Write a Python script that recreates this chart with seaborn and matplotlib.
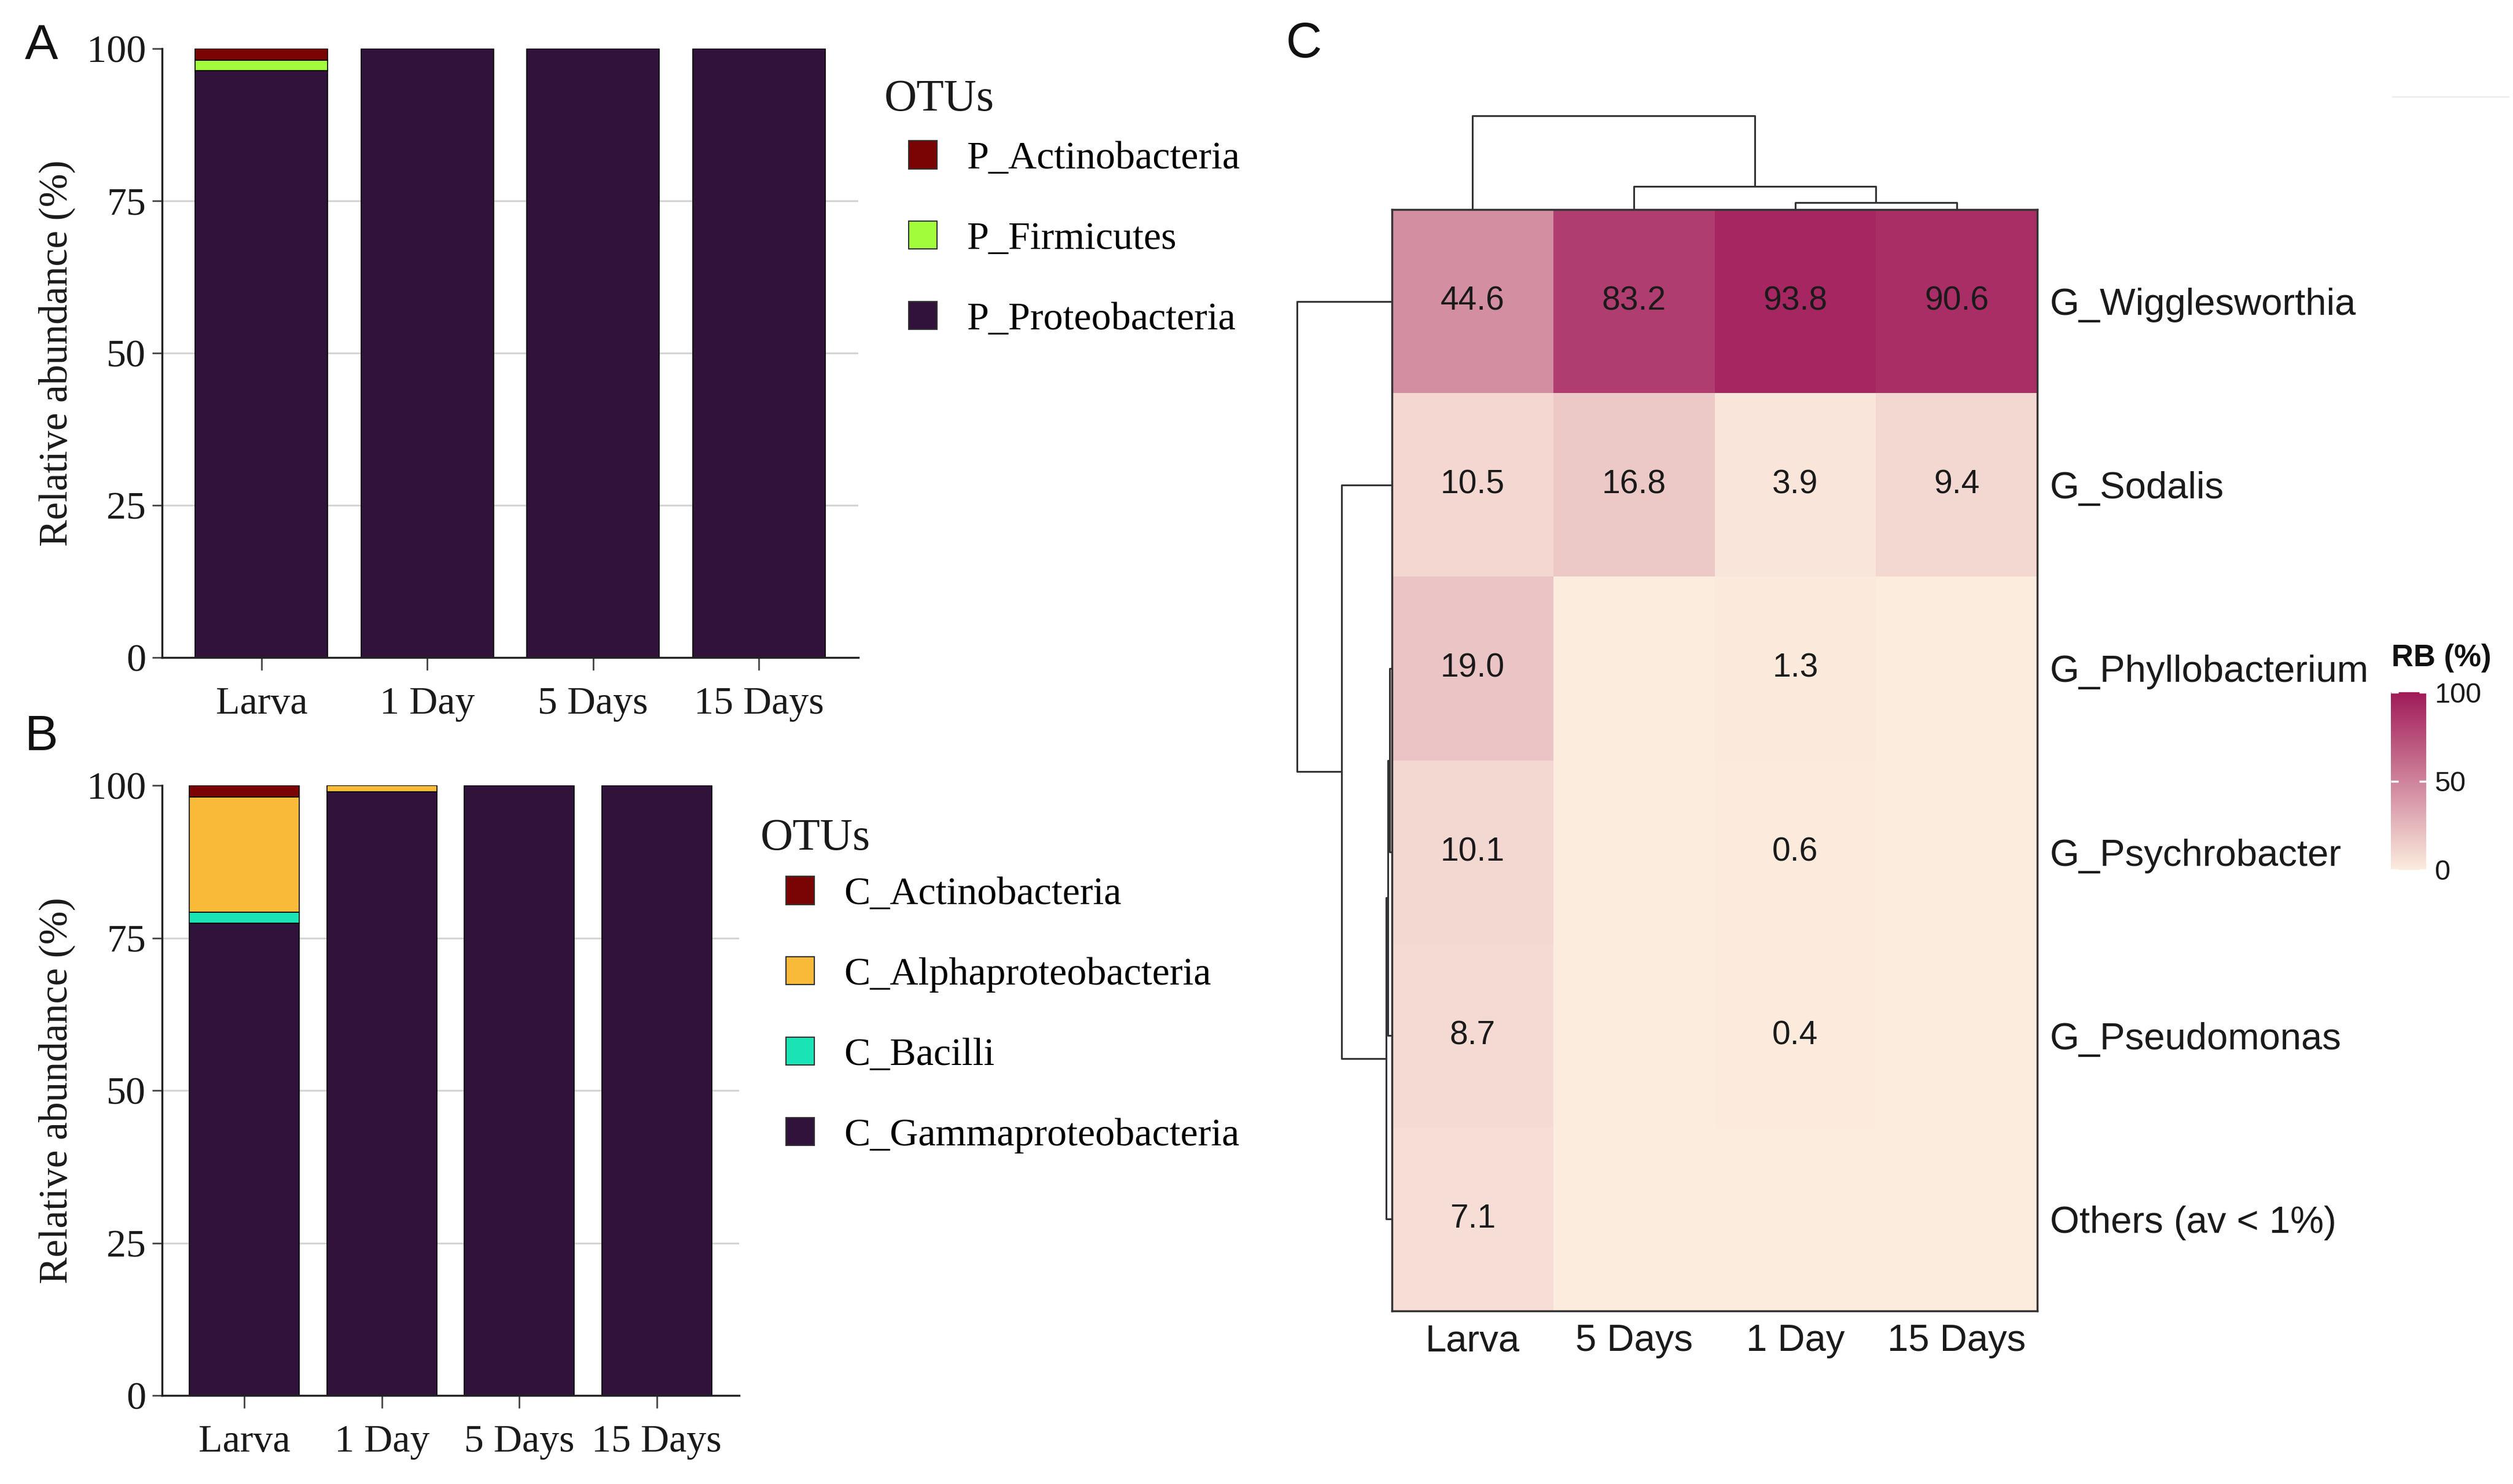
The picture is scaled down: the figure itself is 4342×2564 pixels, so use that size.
import numpy as np
import pandas as pd
import matplotlib
matplotlib.use("Agg")
import matplotlib.pyplot as plt
import seaborn as sns
from matplotlib.patches import Patch
from matplotlib.colors import LinearSegmentedColormap
from matplotlib.lines import Line2D

# ---------------- data ----------------
stages = ["Larva", "1 Day", "5 Days", "15 Days"]

phyla = ["P_Actinobacteria", "P_Firmicutes", "P_Proteobacteria"]
phyla_colors = ["#7A0403", "#A2FC3C", "#30123B"]
p_actino = [1.9, 0.0, 0.0, 0.0]
p_firmi = [1.7, 0.0, 0.0, 0.0]
p_proteo = [96.4, 100.0, 100.0, 100.0]

classes = ["C_Actinobacteria", "C_Alphaproteobacteria", "C_Bacilli", "C_Gammaproteobacteria"]
class_colors = ["#7A0403", "#FABA39", "#1AE4B6", "#30123B"]
c_actino = [1.9, 0.0, 0.0, 0.0]
c_alpha = [18.9, 1.0, 0.0, 0.0]
c_bacilli = [1.8, 0.0, 0.0, 0.0]
c_gamma = [77.4, 99.0, 100.0, 100.0]

genera = ["G_Wigglesworthia", "G_Sodalis", "G_Phyllobacterium",
          "G_Psychrobacter", "G_Pseudomonas", "Others (av < 1%)"]
heat_cols = ["Larva", "5 Days", "1 Day", "15 Days"]
rb_larva = [44.6, 10.5, 19.0, 10.1, 8.7, 7.1]
rb_5d = [83.2, 16.8, 0.0, 0.0, 0.0, 0.0]
rb_1d = [93.8, 3.9, 1.3, 0.6, 0.4, 0.0]
rb_15d = [90.6, 9.4, 0.0, 0.0, 0.0, 0.0]

# dendrogram merges (child_a, child_b, height); leaves are in display order
col_links = [(2, 3, 7.4), (1, 4, 24.7), (0, 5, 100.0)]
row_links = [(2, 3, 2.5), (6, 4, 4.0), (7, 5, 6.0), (1, 8, 53.0), (0, 9, 100.0)]

# ---------------- figure ----------------
W, H = 4342, 2564
fig = plt.figure(figsize=(W / 100, H / 100), dpi=100)
fig.patch.set_facecolor("white")

SERIF = "Liberation Serif"
SANS = "Liberation Sans"


def ax_px(l, t, r, b):
    return fig.add_axes([l / W, 1 - b / H, (r - l) / W, (b - t) / H])


def stacked(ax, names, colors, series):
    rows = []
    for name, vals in zip(names, series):
        for st, v in zip(stages, vals):
            rows.append({"stage": st, "otu": name, "value": v})
    df = pd.DataFrame(rows)
    df["stage"] = pd.Categorical(df["stage"], categories=stages, ordered=True)
    df["pos"] = df["stage"].cat.codes
    for yv in (25, 50, 75):
        ax.axhline(yv, color="#d4d4d4", lw=2.2, zorder=0)
    sns.histplot(data=df, x="pos", weights="value", hue="otu", hue_order=names,
                 palette=dict(zip(names, colors)), multiple="stack", discrete=True,
                 shrink=0.8, alpha=1, edgecolor="black", linewidth=1.2,
                 legend=False, ax=ax)
    ax.set_xlim(-0.6, 3.6)
    ax.set_ylim(0, 100)
    ax.set_xticks(range(len(stages)))
    ax.set_xticklabels(stages, fontsize=49, family=SERIF, color="#1a1a1a")
    ax.set_yticks([0, 25, 50, 75, 100])
    ax.set_yticklabels(["0", "25", "50", "75", "100"], fontsize=49, family=SERIF, color="#1a1a1a")
    ax.tick_params(axis="x", length=16, width=2, color="#444444", pad=20)
    ax.tick_params(axis="y", length=12, width=2, color="#444444", pad=8)
    for s in ("top", "right"):
        ax.spines[s].set_visible(False)
    for s in ("left", "bottom"):
        ax.spines[s].set_linewidth(2.5)
        ax.spines[s].set_color("#222222")
    ax.set_xlabel("")
    ax.set_ylabel("Relative abundance (%)", fontsize=50, family=SERIF, color="#1a1a1a")
    ax.set_facecolor("white")


def legend(names, colors, key_left, top, title_left, title_cy):
    handles = [Patch(facecolor=c, edgecolor="#333333", linewidth=1.5) for c in colors]
    fig.legend(handles, names, loc="upper left",
               bbox_to_anchor=(key_left / W, 1 - top / H), frameon=False,
               borderpad=0, borderaxespad=0, handlelength=0.72, handleheight=0.72,
               handletextpad=0.75, labelspacing=1.13,
               prop={"family": SERIF, "size": 49})
    fig.text(title_left / W, 1 - title_cy / H, "OTUs", fontsize=56, family=SERIF,
             ha="left", va="center", color="#1a1a1a")


# Panel A
axA = ax_px(280, 84, 1483, 1136)
stacked(axA, phyla, phyla_colors, [p_actino, p_firmi, p_proteo])
axA.yaxis.set_label_coords((130 - 280) / 1203, 0.5)
legend(phyla, phyla_colors, 1570, 243, 1528, 172)

# Panel B
axB = ax_px(280, 1357, 1277, 2411)
stacked(axB, classes, class_colors, [c_actino, c_alpha, c_bacilli, c_gamma])
axB.yaxis.set_label_coords((130 - 280) / 997, 0.5)
legend(classes, class_colors, 1358, 1514, 1314, 1449)

# Panel labels
for lab, x, y in (("A", 72, 80), ("B", 72, 1274), ("C", 2253, 77)):
    fig.text(x / W, 1 - y / H, lab, fontsize=62, family=SANS, ha="center",
             va="center", color="#111111")

# Panel C heatmap
heat_df = pd.DataFrame({"Larva": rb_larva, "5 Days": rb_5d, "1 Day": rb_1d,
                        "15 Days": rb_15d}, index=genera)[heat_cols]
annot = [[f"{v:.1f}" if v > 0 else "" for v in row] for row in heat_df.values]
cmap = LinearSegmentedColormap.from_list("rb", ["#fcecde", "#a01a58"])

hax = ax_px(2405, 362, 3520, 2265)
cax = ax_px(4131, 1196, 4192, 1503)
sns.heatmap(heat_df, ax=hax, cmap=cmap, vmin=0, vmax=100, annot=annot, fmt="",
            annot_kws={"size": 41, "color": "#1a1a1a", "family": SANS},
            cbar_ax=cax, linewidths=0)
hax.yaxis.tick_right()
hax.set_yticks(np.arange(len(genera)) + 0.5)
hax.set_yticklabels(genera, rotation=0, fontsize=47, family=SANS, color="#1a1a1a")
hax.set_xticklabels(heat_cols, rotation=0, fontsize=47, family=SANS, color="#1a1a1a")
hax.tick_params(axis="both", length=0, pad=16)
hax.set_xlabel("")
hax.set_ylabel("")
for sp in hax.spines.values():
    sp.set_visible(True)
    sp.set_linewidth(2.5)
    sp.set_color("#333333")

cbar = hax.collections[0].colorbar
cbar.outline.set_visible(False)
cbar.set_ticks([0, 50, 100])
cbar.ax.tick_params(direction="in", color="white", width=2.5, length=9,
                    left=True, right=True, labelleft=False, labelright=True,
                    labelsize=35, labelcolor="#1a1a1a", pad=10)
for t in cbar.ax.get_yticklabels():
    t.set_family(SANS)
fig.text(4132 / W, 1 - 1137 / H, "RB (%)", fontsize=38, family=SANS,
         fontweight="bold", ha="left", va="center", color="#111111")


def draw_dendro(ax, links, n, orient):
    pos = {i: i + 0.5 for i in range(n)}
    hgt = {i: 0.0 for i in range(n)}
    for k, (a, b, h) in enumerate(links):
        xa, xb = pos[a], pos[b]
        xs = [xa, xa, xb, xb]
        ys = [hgt[a], h, h, hgt[b]]
        if orient == "top":
            ax.plot(xs, ys, color="#333333", lw=2.2, solid_capstyle="butt", clip_on=False)
        else:
            ax.plot(ys, xs, color="#333333", lw=2.2, solid_capstyle="butt", clip_on=False)
        pos[n + k] = (xa + xb) / 2
        hgt[n + k] = h


cdax = ax_px(2405, 200, 3520, 362)
draw_dendro(cdax, col_links, len(heat_cols), "top")
cdax.set_xlim(0, len(heat_cols))
cdax.set_ylim(0, 100)
cdax.axis("off")

rdax = ax_px(2241, 362, 2405, 2265)
draw_dendro(rdax, row_links, len(genera), "left")
rdax.set_ylim(len(genera), 0)
rdax.set_xlim(100, 0)
rdax.axis("off")

fig.add_artist(Line2D([4134 / W, 4334 / W], [1 - 167 / H, 1 - 167 / H],
                      color="#eeeeee", lw=2))

fig.savefig("out.png", dpi=100, facecolor="white")
